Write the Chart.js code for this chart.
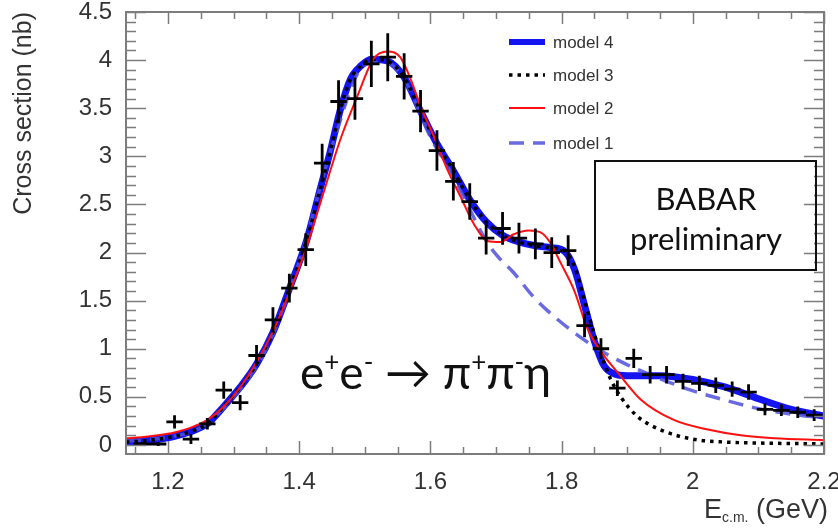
<!DOCTYPE html>
<html>
<head>
<meta charset="utf-8">
<title>e+e- -> pi+pi-eta cross section</title>
<script src="https://cdn.jsdelivr.net/npm/chart.js"></script>
<style>
  body { margin: 0; background: #fff; }
</style>
</head>
<body>
<canvas id="xsChart" width="838" height="530"></canvas>
<script>
// measured points: E (GeV), cross section (nb), error (nb)
const energy = [1.16, 1.185, 1.21, 1.235, 1.26, 1.285, 1.31, 1.335, 1.36, 1.385,
  1.41, 1.435, 1.46, 1.485, 1.51, 1.535, 1.56, 1.585, 1.61, 1.635,
  1.66, 1.685, 1.71, 1.735, 1.76, 1.785, 1.81, 1.835, 1.86, 1.885,
  1.91, 1.935, 1.96, 1.985, 2.01, 2.035, 2.06, 2.085, 2.11, 2.135, 2.16, 2.185];
const xsec = [0.01, 0.01, 0.24, 0.06, 0.22, 0.57, 0.44, 0.93, 1.30, 1.63,
  2.03, 2.93, 3.57, 3.60, 3.96, 4.03, 3.83, 3.47, 3.06, 2.74,
  2.53, 2.15, 2.25, 2.15, 2.09, 2.00, 2.02, 1.24, 1.00, 0.59,
  0.90, 0.73, 0.73, 0.66, 0.64, 0.62, 0.58, 0.55, 0.37, 0.36, 0.34, 0.31];
const xsecErr = [0.02, 0.02, 0.07, 0.05, 0.06, 0.09, 0.08, 0.11, 0.13, 0.15,
  0.17, 0.20, 0.22, 0.22, 0.24, 0.25, 0.24, 0.22, 0.21, 0.20,
  0.19, 0.17, 0.17, 0.16, 0.16, 0.16, 0.16, 0.12, 0.11, 0.08,
  0.10, 0.09, 0.09, 0.08, 0.08, 0.08, 0.08, 0.08, 0.06, 0.06, 0.06, 0.06];
const binHalf = 0.0125;

// fit curves
const model4E = [1.136, 1.16, 1.185, 1.21, 1.235, 1.26, 1.285, 1.31, 1.335, 1.36, 1.386,
  1.412, 1.432, 1.447, 1.463, 1.478, 1.494, 1.51, 1.535, 1.56, 1.585, 1.61, 1.635, 1.66, 1.685,
  1.71, 1.735, 1.76, 1.785, 1.805, 1.82, 1.835, 1.85, 1.865, 1.88, 1.9, 1.95,
  2.0, 2.05, 2.1, 2.15, 2.2];
const model4Y = [0.03, 0.04, 0.06, 0.09, 0.14, 0.22, 0.40, 0.60, 0.84, 1.17, 1.64,
  2.14, 2.66, 3.04, 3.49, 3.80, 3.94, 4.01, 3.99, 3.82, 3.47, 3.13, 2.85, 2.55, 2.32,
  2.18, 2.11, 2.07, 2.05, 2.01, 1.82, 1.45, 1.08, 0.82, 0.74, 0.72, 0.72,
  0.68, 0.60, 0.48, 0.37, 0.30];

const model3E = [1.136, 1.16, 1.185, 1.21, 1.235, 1.26, 1.285, 1.31, 1.335, 1.36, 1.386,
  1.412, 1.432, 1.447, 1.463, 1.478, 1.494, 1.51, 1.535, 1.56, 1.585, 1.61, 1.635, 1.66, 1.685,
  1.71, 1.735, 1.76, 1.785, 1.805, 1.82, 1.835, 1.85, 1.865, 1.875, 1.89, 1.915,
  1.95, 2.0, 2.05, 2.1, 2.15, 2.2];
const model3Y = [0.03, 0.04, 0.06, 0.09, 0.14, 0.22, 0.40, 0.60, 0.84, 1.17, 1.64,
  2.14, 2.66, 3.04, 3.49, 3.80, 3.94, 4.01, 3.99, 3.82, 3.47, 3.13, 2.85, 2.55, 2.32,
  2.18, 2.11, 2.07, 2.05, 2.01, 1.85, 1.50, 1.15, 0.85, 0.68, 0.50, 0.30,
  0.16, 0.06, 0.03, 0.02, 0.015, 0.01];

const model2E = [1.136, 1.16, 1.185, 1.21, 1.235, 1.26, 1.285, 1.31, 1.335, 1.36, 1.385,
  1.41, 1.437, 1.463, 1.489, 1.513, 1.534, 1.554, 1.57, 1.585, 1.605, 1.626, 1.646,
  1.666, 1.687, 1.707, 1.727, 1.75, 1.768, 1.783, 1.798, 1.819, 1.84, 1.86, 1.886,
  1.921, 1.971, 2.023, 2.073, 2.124, 2.2];
const model2Y = [0.07, 0.08, 0.10, 0.13, 0.18, 0.26, 0.40, 0.60, 0.86, 1.18, 1.58,
  2.03, 2.62, 3.18, 3.63, 4.01, 4.09, 4.03, 3.80, 3.52, 3.21, 2.86, 2.58,
  2.30, 2.12, 2.11, 2.19, 2.23, 2.21, 2.10, 1.90, 1.61, 1.20, 0.97, 0.75,
  0.47, 0.26, 0.16, 0.10, 0.07, 0.05];

const model1E = [1.136, 1.2, 1.25, 1.3, 1.35, 1.4, 1.45, 1.5, 1.53, 1.56, 1.6, 1.63,
  1.66, 1.68, 1.7, 1.727, 1.757, 1.8, 1.85, 1.895, 1.946, 1.997, 2.047, 2.099, 2.15, 2.2];
const model1Y = [0.04, 0.08, 0.18, 0.50, 1.00, 1.90, 3.10, 3.95, 3.98, 3.80, 3.20, 2.85,
  2.45, 2.18, 1.98, 1.79, 1.54, 1.27, 1.02, 0.85, 0.70, 0.57, 0.47, 0.38, 0.32, 0.28];

const xTicks = [1.2, 1.4, 1.6, 1.8, 2, 2.2];
const xTickLabels = ['1.2', '1.4', '1.6', '1.8', '2', '2.2'];
const yTicks = [0, 0.5, 1, 1.5, 2, 2.5, 3, 3.5, 4, 4.5];
const yTickLabels = ['0', '0.5', '1', '1.5', '2', '2.5', '3', '3.5', '4', '4.5'];

const toXY = (xs, ys) => xs.map((x, i) => ({ x: x, y: ys[i] }));

// error bars as broken line segments
const errPoints = [];
energy.forEach((e, i) => {
  errPoints.push({ x: e, y: xsec[i] - xsecErr[i] }, { x: e, y: xsec[i] + xsecErr[i] }, { x: e, y: null });
  errPoints.push({ x: e - binHalf, y: xsec[i] }, { x: e + binHalf, y: xsec[i] }, { x: e, y: null });
});

const frameColor = '#7c7c7c';

const decorations = {
  id: 'decorations',
  afterDatasetsDraw(chart) {
    const { ctx, chartArea: a, scales: { x, y } } = chart;
    ctx.save();
    ctx.strokeStyle = frameColor;
    ctx.lineWidth = 1.5;
    ctx.beginPath();
    // x ticks (bottom up, top down)
    for (let k = 0; k * 0.05 + 1.15 <= 2.2001; k++) {
      const v = Math.round((1.15 + k * 0.05) * 100) / 100;
      const major = xTicks.some(t => Math.abs(t - v) < 1e-6);
      const px = Math.round(x.getPixelForValue(v)) + 0.5;
      const len = major ? 13 : 7;
      ctx.moveTo(px, a.bottom); ctx.lineTo(px, a.bottom - len);
      ctx.moveTo(px, a.top); ctx.lineTo(px, a.top + (major ? 12 : 7));
    }
    // y ticks (left and right)
    for (let k = 0; k <= 45; k++) {
      const v = Math.round(k * 10) / 100;
      const major = k % 5 === 0;
      const py = Math.round(y.getPixelForValue(v)) + 0.5;
      const len = major ? 20 : 10;
      ctx.moveTo(a.left, py); ctx.lineTo(a.left + len, py);
      ctx.moveTo(a.right, py); ctx.lineTo(a.right - len, py);
    }
    ctx.stroke();
    ctx.lineWidth = 2;
    ctx.strokeRect(a.left, a.top, a.right - a.left, a.bottom - a.top);
    ctx.restore();
  },
  afterDraw(chart) {
    const { ctx } = chart;
    ctx.save();

    // legend
    const order = ['model 4', 'model 3', 'model 2', 'model 1'];
    const rows = [42, 75, 108, 143];
    order.forEach((name, i) => {
      const ds = chart.data.datasets.find(d => d.label === name);
      ctx.strokeStyle = ds.borderColor;
      ctx.lineWidth = Math.min(ds.borderWidth, 6);
      ctx.setLineDash(ds.borderDash || []);
      ctx.beginPath();
      ctx.moveTo(509, rows[i]); ctx.lineTo(545, rows[i]);
      ctx.stroke();
      ctx.setLineDash([]);
      ctx.fillStyle = '#333';
      ctx.font = '17px "Liberation Sans", Arial, sans-serif';
      ctx.textBaseline = 'middle';
      ctx.textAlign = 'left';
      ctx.fillText(name, 553, rows[i] + 1);
    });

    // reaction label
    const big = '46px Lato, "Noto Sans", "DejaVu Sans", sans-serif';
    const sup = '26px Lato, "Noto Sans", "DejaVu Sans", sans-serif';
    const parts = [['e', big, 0], ['+', sup, -18], ['e', big, 0], ['-', sup, -18],
      [' \u2192 ', big, 0], ['\u03c0', big, 0], ['+', sup, -18], ['\u03c0', big, 0],
      ['-', sup, -18], ['\u03b7', big, 0]];
    let cx = 300;
    ctx.fillStyle = '#111';
    ctx.textBaseline = 'alphabetic';
    parts.forEach(([t, f, dy]) => {
      ctx.font = f;
      ctx.fillText(t, cx, 389 + dy);
      cx += ctx.measureText(t).width;
    });

    // BABAR box
    ctx.strokeStyle = '#111';
    ctx.lineWidth = 2;
    ctx.strokeRect(595, 161, 221, 109);
    ctx.textAlign = 'center';
    ctx.font = '31px Lato, "Noto Sans", sans-serif';
    ctx.fillText('BABAR', 706, 210);
    ctx.fillText('preliminary', 706, 250);

    // x axis title with subscript
    ctx.textAlign = 'left';
    ctx.fillStyle = '#333';
    const tFont = '27px "Liberation Sans", Arial, sans-serif';
    const sFont = '14px "Liberation Sans", Arial, sans-serif';
    ctx.font = tFont; const wE = ctx.measureText('E').width; const wG = ctx.measureText(' (GeV)').width;
    ctx.font = sFont; const wS = ctx.measureText('c.m.').width;
    let tx = 828 - wE - wS - wG;
    ctx.font = tFont; ctx.fillText('E', tx, 518); tx += wE;
    ctx.font = sFont; ctx.fillText('c.m.', tx, 522); tx += wS;
    ctx.font = tFont; ctx.fillText(' (GeV)', tx, 518);
    ctx.restore();
  }
};

const ctx = document.getElementById('xsChart').getContext('2d');
new Chart(ctx, {
  type: 'scatter',
  data: {
    datasets: [
      { label: 'data', data: errPoints, showLine: true, borderColor: '#000', borderWidth: 2.8,
        pointRadius: 0, tension: 0, spanGaps: false },
      { label: 'model 2', data: toXY(model2E, model2Y), showLine: true, borderColor: '#ff1010',
        borderWidth: 2, pointRadius: 0, cubicInterpolationMode: 'monotone' },
      { label: 'model 3', data: toXY(model3E, model3Y), showLine: true, borderColor: '#000',
        borderWidth: 3.5, borderDash: [3.5, 5], pointRadius: 0, cubicInterpolationMode: 'monotone' },
      { label: 'model 1', data: toXY(model1E, model1Y), showLine: true, borderColor: 'rgba(80,80,220,0.85)',
        borderWidth: 3.5, borderDash: [15, 9], pointRadius: 0, cubicInterpolationMode: 'monotone' },
      { label: 'model 4', data: toXY(model4E, model4Y), showLine: true, borderColor: '#1414f0',
        borderWidth: 7, pointRadius: 0, cubicInterpolationMode: 'monotone' }
    ]
  },
  options: {
    responsive: false,
    animation: false,
    layout: { padding: { top: 12, right: 14, left: 0, bottom: 0 } },
    plugins: { legend: { display: false }, tooltip: { enabled: false } },
    scales: {
      x: {
        type: 'linear', min: 1.136, max: 2.2,
        grid: { display: false }, border: { display: false },
        afterBuildTicks: s => { s.ticks = xTicks.map(v => ({ value: v })); },
        afterFit: s => { s.height = 76; s.paddingLeft = 0; s.paddingRight = 0; },
        ticks: {
          maxRotation: 0, autoSkip: false, padding: 6, color: '#333',
          font: { family: '"Liberation Sans", Arial, sans-serif', size: 24 },
          callback: (v, i) => xTickLabels[i]
        }
      },
      y: {
        type: 'linear', min: -0.094, max: 4.5,
        grid: { display: false }, border: { display: false },
        afterBuildTicks: s => { s.ticks = yTicks.map(v => ({ value: v })); },
        afterFit: s => { s.width = 126; s.paddingTop = 0; s.paddingBottom = 0; },
        title: {
          display: true, text: 'Cross section (nb)', align: 'end', color: '#333',
          font: { family: '"Liberation Sans", Arial, sans-serif', size: 25 },
          padding: { top: 9, bottom: 0 }
        },
        ticks: {
          autoSkip: false, padding: 6, color: '#333',
          font: { family: '"Liberation Sans", Arial, sans-serif', size: 24 },
          callback: (v, i) => yTickLabels[i]
        }
      }
    }
  },
  plugins: [decorations]
});
</script>
</body>
</html>
